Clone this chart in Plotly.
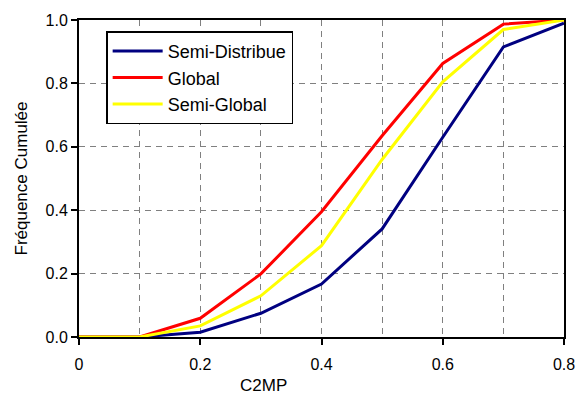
import plotly.graph_objects as go

x_vals = [0.0, 0.1, 0.2, 0.3, 0.4, 0.5, 0.6, 0.7, 0.8]
semi_distribue = [0.0, 0.0, 0.015, 0.075, 0.167, 0.341, 0.63, 0.915, 0.99]
global_ = [0.0, 0.0, 0.059, 0.199, 0.395, 0.635, 0.863, 0.987, 1.0]
semi_global = [0.0, 0.0, 0.035, 0.13, 0.288, 0.56, 0.805, 0.97, 1.0]

x_tickvals = [0.0, 0.2, 0.4, 0.6, 0.8]
x_ticktext = ["0", "0.2", "0.4", "0.6", "0.8"]

names = ["Semi-Distribue", "Global", "Semi-Global"]
colors = ["#000080", "#FF0000", "#FFFF00"]
series = [semi_distribue, global_, semi_global]

fig = go.Figure()
for n, c, s in zip(names, colors, series):
    fig.add_trace(go.Scatter(x=x_vals, y=s, mode="lines", name=n,
                             line=dict(color=c, width=3)))

font_family = "Liberation Sans, Arial, sans-serif"
grid = dict(gridcolor="#808080", griddash="6px,5px", gridwidth=1)
fig.update_layout(
    width=588, height=396,
    margin=dict(l=79, r=24, t=14, b=59),
    paper_bgcolor="white", plot_bgcolor="white",
    font=dict(family=font_family, size=16, color="black"),
    showlegend=True,
    legend=dict(x=0.056, y=0.964, xanchor="left", yanchor="top",
                bgcolor="white", bordercolor="black", borderwidth=1.5,
                itemwidth=50,
                font=dict(size=18, family=font_family)),
    xaxis=dict(range=[0, 0.8], tickvals=x_tickvals, ticktext=x_ticktext,
               showline=True, linecolor="black", linewidth=2, mirror=True,
               ticks="outside", ticklen=6, tickcolor="black", tickwidth=1.5,
               ticklabelstandoff=6,
               showgrid=True, **grid,
               minor=dict(dtick=0.1, tick0=0, showgrid=True, **grid),
               zeroline=False, tickfont=dict(size=16)),
    yaxis=dict(range=[0, 1.0], dtick=0.2, tickformat=".1f",
               showline=True, linecolor="black", linewidth=2, mirror=True,
               ticks="outside", ticklen=6, tickcolor="black", tickwidth=1.5,
               showgrid=True, **grid,
               zeroline=False, tickfont=dict(size=16),
               title=dict(text="Fréquence Cumulée", font=dict(size=17), standoff=14)),
    annotations=[dict(text="C2MP", xref="paper", yref="paper",
                      x=(263.5 - 79) / 485, y=-0.152, xanchor="center", yanchor="middle",
                      showarrow=False, font=dict(size=17, family=font_family))],
)

fig.write_html("out.html")
